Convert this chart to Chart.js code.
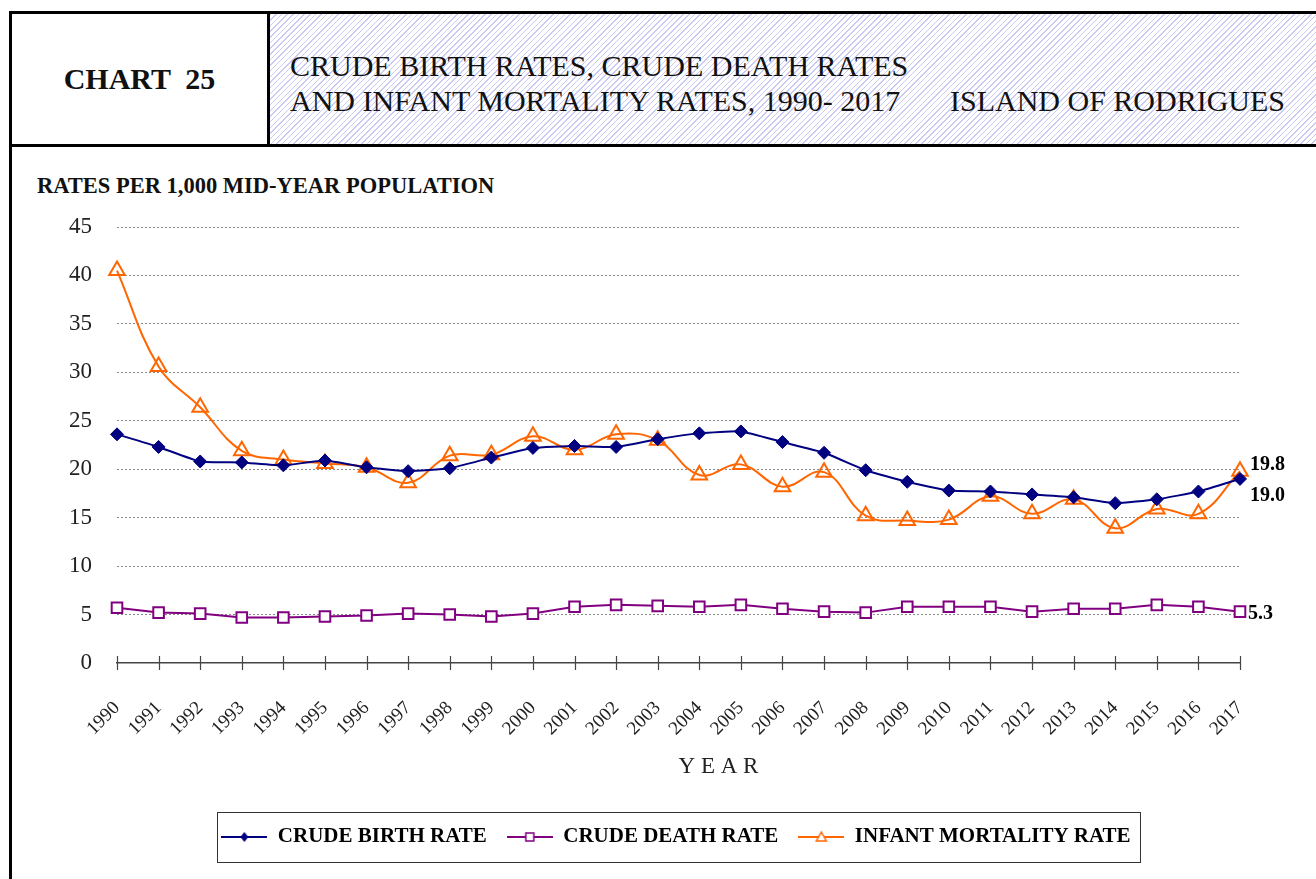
<!DOCTYPE html>
<html>
<head>
<meta charset="utf-8">
<title>Chart 25 - Rodrigues</title>
<script src="https://cdn.jsdelivr.net/npm/chart.js@4.4.1/dist/chart.umd.min.js"></script>
<style>
  html, body { margin: 0; padding: 0; background: #fff; }
  body { width: 1316px; height: 879px; position: relative; overflow: hidden;
         font-family: 'Liberation Serif', 'DejaVu Serif', serif; color: #111; }
  .abs { position: absolute; }
  #head { left: 9px; top: 11px; width: 1330px; height: 130px;
          border-top: 3px solid #000; border-bottom: 3px solid #000; border-left: 3px solid #000; }
  #cell1 { left: 0; top: 0; width: 255px; height: 130px; border-right: 3px solid #000;
           display: flex; align-items: center; justify-content: center;
           font-weight: bold; font-size: 30px; white-space: pre; }
  #cell2 { left: 258px; top: 0; width: 1072px; height: 130px;
           background: repeating-linear-gradient(135deg, #cacaf5 0px, #cacaf5 1px, #ffffff 1px, #ffffff 4px); }
  .ttl { font-size: 30px; line-height: 35px; white-space: pre; }
  #leftline { left: 9px; top: 147px; width: 3px; height: 740px; background: #000; }
  #ytitle { left: 37px; top: 173px; font-weight: bold; font-size: 22.5px; line-height: 26px; white-space: pre; }
  #wrap { left: 12px; top: 148px; width: 1304px; height: 731px; }
</style>
</head>
<body>
<div id="head" class="abs">
  <div id="cell1" class="abs">CHART  25</div>
  <div id="cell2" class="abs"></div>
</div>
<div class="abs ttl" style="left:290px; top:48px;">CRUDE BIRTH RATES, CRUDE DEATH RATES</div>
<div class="abs ttl" style="left:290px; top:83px;">AND INFANT MORTALITY RATES, 1990- 2017</div>
<div class="abs ttl" style="left:950px; top:83px;">ISLAND OF RODRIGUES</div>
<div id="leftline" class="abs"></div>
<div id="ytitle" class="abs">RATES PER 1,000 MID-YEAR POPULATION</div>
<div id="wrap" class="abs"><canvas id="rates" width="1304" height="731"></canvas></div>

<script>
const years = ['1990', '1991', '1992', '1993', '1994', '1995', '1996', '1997', '1998', '1999',
  '2000', '2001', '2002', '2003', '2004', '2005', '2006', '2007', '2008', '2009',
  '2010', '2011', '2012', '2013', '2014', '2015', '2016', '2017'];

const birthRate = [23.6, 22.3, 20.8, 20.7, 20.4, 20.9, 20.2, 19.8, 20.1, 21.2,
  22.2, 22.4, 22.3, 23.1, 23.7, 23.9, 22.8, 21.7, 19.9, 18.7,
  17.8, 17.7, 17.4, 17.1, 16.5, 16.9, 17.7, 19.0];

const deathRate = [5.7, 5.2, 5.1, 4.7, 4.7, 4.8, 4.9, 5.1, 5.0, 4.8,
  5.1, 5.8, 6.0, 5.9, 5.8, 6.0, 5.6, 5.3, 5.2, 5.8,
  5.8, 5.8, 5.3, 5.6, 5.6, 6.0, 5.8, 5.3];

const infantRate = [40.5, 30.6, 26.4, 21.9, 21.0, 20.6, 20.2, 18.6, 21.4, 21.5,
  23.4, 22.0, 23.6, 23.0, 19.4, 20.5, 18.2, 19.7, 15.2, 14.7,
  14.8, 17.2, 15.4, 16.9, 13.9, 15.9, 15.4, 19.8];

const seriesNames = ['CRUDE BIRTH RATE', 'CRUDE DEATH RATE', 'INFANT MORTALITY RATE'];
const yTicks = [0, 5, 10, 15, 20, 25, 30, 35, 40, 45];

const NAVY = '#000080';
const PURPLE = '#800080';
const ORANGE = '#ff6600';
const SERIF = "'Liberation Serif', 'DejaVu Serif', serif";

Chart.defaults.font.family = SERIF;
Chart.defaults.color = '#222';

// small line+marker pictures for the legend, like the excel legend keys
function legendKey(color, shape) {
  const c = document.createElement('canvas');
  c.width = 46; c.height = 16;
  const g = c.getContext('2d');
  g.strokeStyle = color;
  g.lineWidth = 2;
  g.beginPath(); g.moveTo(0, 8); g.lineTo(46, 8); g.stroke();
  g.lineWidth = 1.5;
  g.beginPath();
  if (shape === 'diamond') {
    g.fillStyle = color;
    g.moveTo(23, 3); g.lineTo(27, 8); g.lineTo(23, 13); g.lineTo(19, 8); g.closePath();
    g.fill();
  } else if (shape === 'square') {
    g.fillStyle = '#fff';
    g.rect(19, 4, 8, 8); g.fill(); g.stroke();
  } else {
    g.fillStyle = '#fff';
    g.moveTo(23, 3); g.lineTo(28, 12); g.lineTo(18, 12); g.closePath();
    g.fill(); g.stroke();
  }
  return c;
}
const keys = [legendKey(NAVY, 'diamond'), legendKey(PURPLE, 'square'), legendKey(ORANGE, 'triangle')];

// where the last value of each series is written
const endLabelOffsets = [{ dx: 10, dy: 17 }, { dx: 8, dy: 2 }, { dx: 10, dy: -6 }];
const legendShift = 50;

const extras = {
  id: 'extras',
  afterLayout(chart) {
    // legend sits a little right of the page centre in the original
    chart.legend.left += legendShift;
    chart.legend.right += legendShift;
  },
  afterDatasetsDraw(chart) {
    const ctx = chart.ctx;
    ctx.save();
    ctx.font = 'bold 20px ' + SERIF;
    ctx.fillStyle = '#000';
    ctx.textAlign = 'left';
    ctx.textBaseline = 'middle';
    chart.data.datasets.forEach((ds, i) => {
      const meta = chart.getDatasetMeta(i);
      const pt = meta.data[meta.data.length - 1];
      const v = ds.data[ds.data.length - 1];
      ctx.fillText(v.toFixed(1), pt.x + endLabelOffsets[i].dx, pt.y + endLabelOffsets[i].dy);
    });
    ctx.restore();
  },
  afterDraw(chart) {
    const ctx = chart.ctx;
    const x = chart.scales.x;
    const y = chart.scales.y;
    const area = chart.chartArea;
    ctx.save();
    // tick marks crossing the axis
    const y0 = y.getPixelForValue(0);
    ctx.strokeStyle = '#444';
    ctx.lineWidth = 1.2;
    ctx.beginPath();
    x.ticks.forEach((t, i) => {
      const px = Math.round(x.getPixelForTick(i)) + 0.5;
      ctx.moveTo(px, y0 - 7);
      ctx.lineTo(px, y0 + 7);
    });
    ctx.stroke();

    // axis title
    ctx.font = '23px ' + SERIF;
    ctx.fillStyle = '#222';
    ctx.textAlign = 'center';
    ctx.textBaseline = 'middle';
    ctx.fillText('Y E A R', (area.left + area.right) / 2 + 40, area.bottom + 104);

    // box round the legend
    const hb = chart.legend.legendHitBoxes;
    if (hb && hb.length) {
      const first = hb[0];
      const last = hb[hb.length - 1];
      const cy = first.top + first.height / 2;
      ctx.strokeStyle = '#333';
      ctx.lineWidth = 1;
      ctx.strokeRect(Math.round(first.left - 4) + 0.5, Math.round(cy - 25) + 0.5,
        Math.round(last.left + last.width + 10 - (first.left - 4)), 50);
    }
    ctx.restore();
  }
};

new Chart(document.getElementById('rates'), {
  type: 'line',
  data: {
    labels: years,
    datasets: [
      {
        label: seriesNames[0],
        data: birthRate,
        borderColor: NAVY,
        backgroundColor: NAVY,
        borderWidth: 2,
        tension: 0.15,
        pointStyle: 'rectRot',
        pointRadius: 6.5,
        pointBorderWidth: 1,
        pointBackgroundColor: NAVY,
        pointBorderColor: NAVY
      },
      {
        label: seriesNames[1],
        data: deathRate,
        borderColor: PURPLE,
        backgroundColor: PURPLE,
        borderWidth: 2,
        tension: 0,
        pointStyle: 'rect',
        pointRadius: 7.5,
        pointBorderWidth: 2,
        pointBackgroundColor: '#fff',
        pointBorderColor: PURPLE
      },
      {
        label: seriesNames[2],
        data: infantRate,
        borderColor: ORANGE,
        backgroundColor: ORANGE,
        borderWidth: 2,
        tension: 0.4,
        pointStyle: 'triangle',
        pointRadius: 9,
        pointBorderWidth: 2,
        pointBackgroundColor: 'rgba(255,255,255,0)',
        pointBorderColor: ORANGE
      }
    ]
  },
  options: {
    responsive: false,
    animation: false,
    clip: false,
    layout: { padding: { top: 79, right: 76, left: 0, bottom: 21.5 } },
    plugins: {
      tooltip: { enabled: false },
      legend: {
        position: 'bottom',
        labels: {
          usePointStyle: true,
          pointStyleWidth: 46,
          boxHeight: 14,
          padding: 20,
          color: '#000',
          font: { family: SERIF, size: 21, weight: 'bold' },
          generateLabels(chart) {
            const items = Chart.defaults.plugins.legend.labels.generateLabels(chart);
            items.forEach((it) => { it.pointStyle = keys[it.datasetIndex]; });
            return items;
          }
        }
      }
    },
    scales: {
      x: {
        type: 'category',
        offset: false,
        grid: { display: false, drawTicks: true, tickLength: 7 },
        border: { display: true, color: '#444', width: 1.5 },
        ticks: {
          autoSkip: false,
          minRotation: 45,
          maxRotation: 45,
          padding: 27,
          color: '#222',
          font: { size: 19 }
        },
        afterFit(scale) { scale.height = 143.5; }
      },
      y: {
        min: yTicks[0],
        max: yTicks[yTicks.length - 1],
        grid: {
          drawTicks: false,
          lineWidth: 1,
          color: (c) => (c.tick && c.tick.value === 0 ? 'rgba(0,0,0,0)' : '#8a8a8a')
        },
        border: { display: false, dash: [2, 2] },
        ticks: { stepSize: yTicks[1] - yTicks[0], padding: 25, color: '#222', font: { size: 23 } },
        afterFit(scale) { scale.width = 105; }
      }
    }
  },
  plugins: [extras]
});
</script>
</body>
</html>
